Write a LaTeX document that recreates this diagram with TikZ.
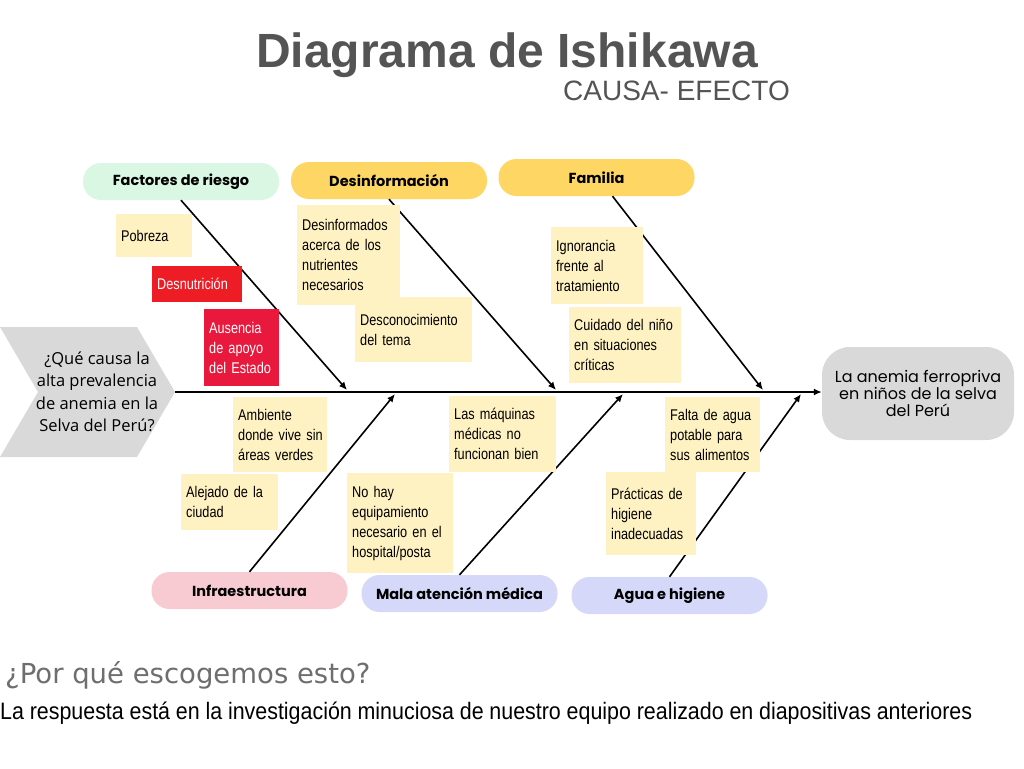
\documentclass[tikz,border=0pt]{standalone}
\usepackage{fontspec}
\setmainfont{Liberation Sans}
\newfontfamily\notefont{Liberation Sans}[FakeStretch=0.82]
\newfontfamily\footfont{Liberation Sans}[FakeStretch=0.9]
\newfontfamily\catfont{Poppins}
\newfontfamily\askfont{Open Sans}
\newfontfamily\wideface{DejaVu Sans}
\usetikzlibrary{arrows.meta,positioning}
\definecolor{ishiGray}{HTML}{545454}
\definecolor{ishiShape}{HTML}{D9D9D9}
\definecolor{ishiMint}{HTML}{D9F7E3}
\definecolor{ishiGold}{HTML}{FDD663}
\definecolor{ishiPink}{HTML}{F8CAD2}
\definecolor{ishiLilac}{HTML}{D5D8F8}
\definecolor{ishiNote}{HTML}{FFF2C2}
\definecolor{ishiRed}{HTML}{EE1C25}
\definecolor{ishiCrimson}{HTML}{E8193C}
\newcommand\notespacing{\spaceskip=3.6pt\relax}
\newcommand\footspacing{\spaceskip=5.8pt\relax}

\begin{document}
\begin{tikzpicture}[x=1pt,y=-1pt,
  pill/.style={rectangle,rounded corners=18pt,minimum width=196pt,minimum height=37pt,inner sep=0pt,font=\catfont\bfseries\fontsize{14.5}{16}\selectfont},
  note/.style={rectangle,fill=ishiNote,anchor=north west,inner xsep=5pt,inner ysep=0pt,align=left,
    font=\notefont\fontsize{15.5}{20}\selectfont\notespacing},
  alert/.style={note,fill=ishiRed,text=white},
  bone/.style={-{Latex[length=8pt,width=7pt]},line width=1.6pt}
]
\useasboundingbox[fill=white] (0,0) rectangle (1024,768);

% title
\node[anchor=base,text=ishiGray,font=\bfseries\fontsize{48}{52}\selectfont] (title) at (507,67) {Diagrama de Ishikawa};
\node[anchor=base west,inner sep=0pt,text=ishiGray,font=\fontsize{28}{30}\selectfont] (subtitle) at (563,100) {CAUSA- EFECTO};

% head and tail
\fill[ishiShape] (0,327) -- (137,327) -- (175,392) -- (137,457) -- (0,457) -- (38,392) -- cycle;
\coordinate (tail) at (175,392);
\node[align=center,font=\askfont\fontsize{16.5}{22.5}\selectfont] (ask) at (97,392) {¿Qué causa la\\alta prevalencia\\de anemia en la\\Selva del Perú?};
\node[rectangle,rounded corners=28pt,fill=ishiShape,minimum width=192pt,minimum height=93pt,align=center,
  font=\catfont\fontsize{16}{17}\selectfont] (effect) at (918,393.5) {La anemia ferropriva\\en niños de la selva\\del Perú};

% categories
\node[pill,fill=ishiMint] (riesgo) at (181,181.5) {Factores de riesgo};
\node[pill,fill=ishiGold] (desinfo) at (389,180.5) {Desinformación};
\node[pill,fill=ishiGold] (familia) at (596.5,177.5) {Familia};
\node[pill,fill=ishiPink] (infra) at (249.5,590.5) {Infraestructura};
\node[pill,fill=ishiLilac] (medica) at (459.5,593.5) {Mala atención médica};
\node[pill,fill=ishiLilac] (agua) at (669.5,595.5) {Agua e higiene};

% spine and bones
\coordinate (b1) at (347,390);
\coordinate (b2) at (556,390);
\coordinate (b3) at (763,390);
\coordinate (b4) at (395,394);
\coordinate (b5) at (623,394);
\coordinate (b6) at (801,394);
\draw[-{Latex[length=8pt,width=7pt]},line width=2pt] (tail) -- (tail -| effect.west);
\draw[bone] (riesgo.south) -- (b1);
\draw[bone] (desinfo.south) -- (b2);
\draw[bone] ([xshift=16pt]familia.south) -- (b3);
\draw[bone] (infra.north) -- (b4);
\draw[bone] (medica.north) -- (b5);
\draw[bone] (agua.north) -- (b6);

% causes
\node[note,text width=66pt,minimum height=43pt] (pobreza) at (116,214) {Pobreza};
\node[alert,text width=80pt,minimum height=36pt] (desnutricion) at (152,266) {Desnutrición};
\node[alert,fill=ishiCrimson,text width=65pt,minimum height=77pt] (ausencia) at (204,309) {Ausencia\\de apoyo\\del Estado};
\node[note,text width=93pt,minimum height=100pt] (desinformados) at (297,205) {Desinformados\\acerca de los\\nutrientes\\necesarios};
\node[note,text width=107pt,minimum height=65pt] (desconocimiento) at (355,297) {Desconocimiento\\del tema};
\node[note,text width=82pt,minimum height=77pt] (ignorancia) at (551,227) {Ignorancia\\frente al\\tratamiento};
\node[note,text width=102pt,minimum height=76pt] (cuidado) at (569,307) {Cuidado del niño\\en situaciones\\críticas};
\node[note,text width=84pt,minimum height=75pt] (ambiente) at (233,397) {Ambiente\\\mbox{donde vive sin}\\áreas verdes};
\node[note,text width=87pt,minimum height=56pt] (alejado) at (181,474) {Alejado de la\\ciudad};
\node[note,text width=96pt,minimum height=100pt] (equipo) at (347,473) {No hay\\equipamiento\\necesario en el\\hospital/posta};
\node[note,text width=97pt,minimum height=76pt] (maquinas) at (449,396) {Las máquinas\\médicas no\\funcionan bien};
\node[note,text width=85pt,minimum height=75pt] (potable) at (665,397) {Falta de agua\\potable para\\sus alimentos};
\node[note,text width=80pt,minimum height=83pt] (practicas) at (606,472) {Prácticas de\\higiene\\inadecuadas};

% footer
\node[anchor=base west,inner sep=0pt,text=ishiGray!85,font=\wideface\fontsize{27.5}{29}\selectfont] (porque) at (5,683) {¿Por qué escogemos esto?};
\node[anchor=base west,inner sep=0pt,font=\footfont\fontsize{23.8}{26}\selectfont\footspacing] (respuesta) at (0,719) {La respuesta está en la investigación minuciosa de nuestro equipo realizado en diapositivas anteriores};
\end{tikzpicture}
\end{document}
